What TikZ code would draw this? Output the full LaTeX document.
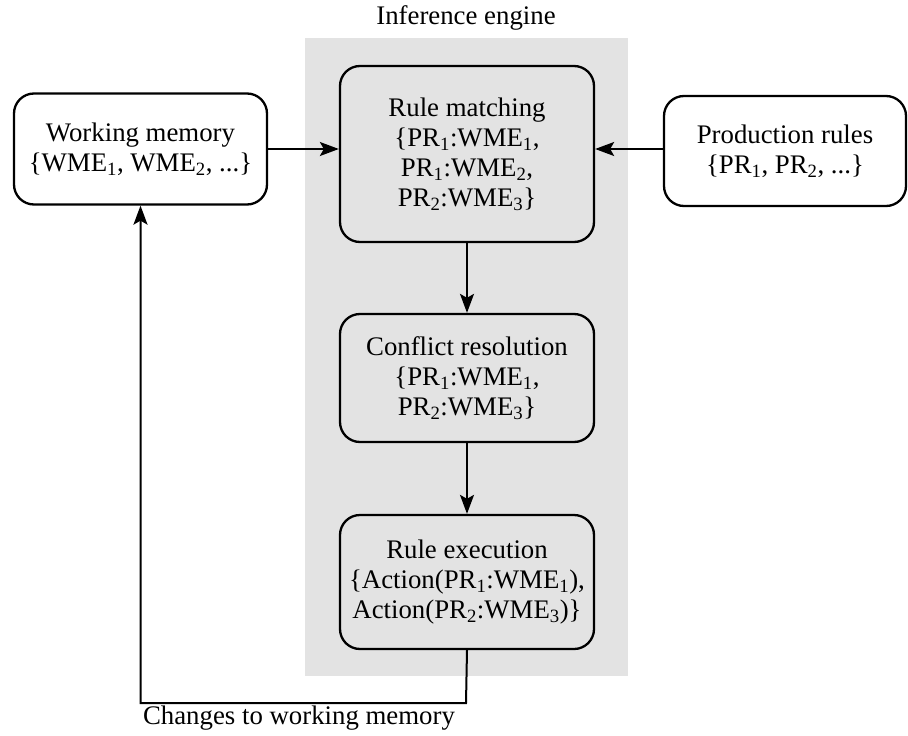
\documentclass[tikz,border=0pt]{standalone}
\usepackage{fontspec}
\setmainfont{Liberation Serif}
\usetikzlibrary{arrows.meta}
\begin{document}
\begin{tikzpicture}[x=1pt,y=-1pt,
  every node/.style={font=\fontsize{26.8}{30}\selectfont},
  blk/.style={draw, line width=2.3pt, rounded corners=20pt, align=center,
              inner sep=0pt, minimum width=254pt},
  link/.style={line width=2pt, -{Stealth[length=19pt,width=14pt,inset=4pt]}}]
\useasboundingbox (0,0) rectangle (908,736);
% inference engine panel
\fill[black!11] (305,38) rectangle (628,676);
\node (title) at (466,18) {Inference engine};
% boxes
\node[blk, fill=white, minimum width=253pt, minimum height=111pt] (wm) at (140.5,149)
  {Working memory\\\{WME\textsubscript{1}, WME\textsubscript{2}, ...\}};
\node[blk, minimum height=176pt] (rm) at (467,154)
  {Rule matching\\\{PR\textsubscript{1}:WME\textsubscript{1},\\PR\textsubscript{1}:WME\textsubscript{2},\\PR\textsubscript{2}:WME\textsubscript{3}\}};
\node[blk, fill=white, minimum width=242pt, minimum height=110pt] (pr) at (785,151)
  {Production rules\\\{PR\textsubscript{1}, PR\textsubscript{2}, ...\}};
\node[blk, minimum height=128pt] (cr) at (467,378)
  {Conflict resolution\\\{PR\textsubscript{1}:WME\textsubscript{1},\\PR\textsubscript{2}:WME\textsubscript{3}\}};
\node[blk, minimum height=134pt] (re) at (467,582)
  {Rule execution\\\{Action(PR\textsubscript{1}:WME\textsubscript{1}),\\Action(PR\textsubscript{2}:WME\textsubscript{3})\}};
% connectors
\draw[link] (wm.east |- 0,149) -- (rm.west |- 0,149);
\draw[link] (pr.west |- 0,149) -- (rm.east |- 0,149);
\draw[link] (rm.south) -- (cr.north);
\draw[link] (cr.south) -- (re.north);
\coordinate (fb) at (466,703);
\draw[link] (re.south) -- (fb) -| (wm.south);
\node (chg) at (299,718) {Changes to working memory};
\end{tikzpicture}
\end{document}
